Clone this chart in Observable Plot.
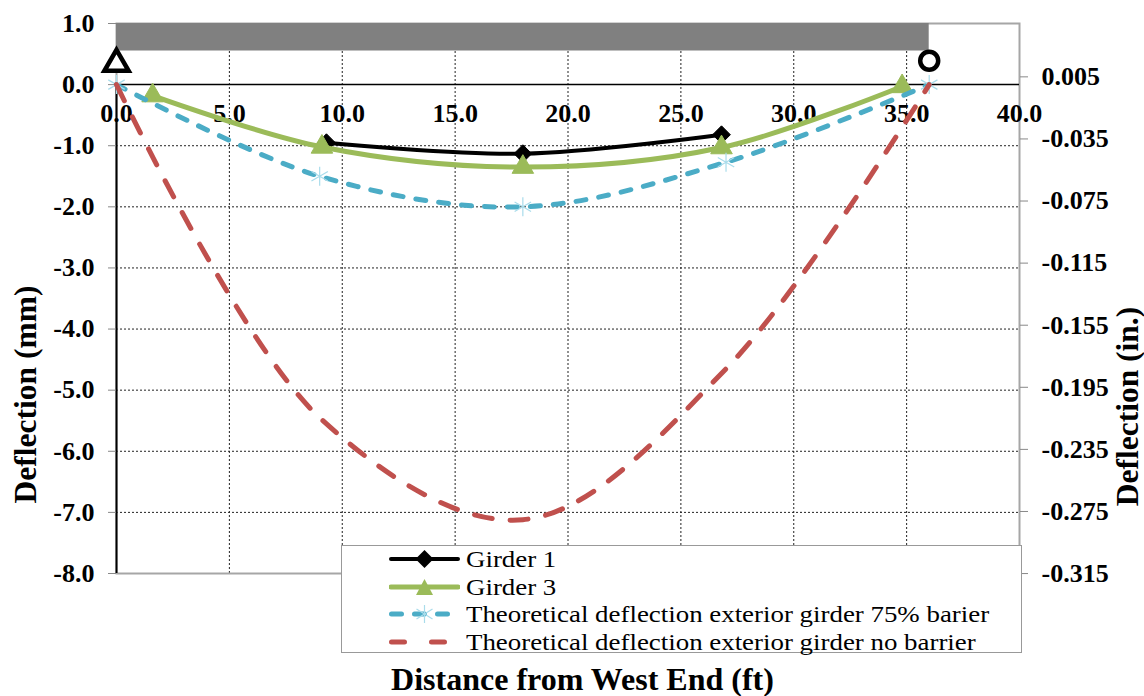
<!DOCTYPE html>
<html><head><meta charset="utf-8">
<script src="https://cdn.jsdelivr.net/npm/d3@7"></script>
<script src="https://cdn.jsdelivr.net/npm/@observablehq/plot@0.6"></script>
<style>
body{margin:0;background:#fff;}
#wrap{position:relative;width:1144px;height:696px;font-family:"Liberation Serif","Times New Roman",serif;}
#wrap svg text{font-family:"Liberation Serif","Times New Roman",serif;font-weight:bold;}
#legend{position:absolute;left:341px;top:545px;width:681px;height:108px;border:1px solid #999;background:#fff;box-sizing:border-box;}
.item{position:absolute;left:47px;height:26px;display:flex;align-items:center;font-size:24px;line-height:26px;color:#000;white-space:nowrap;font-family:"Liberation Serif","Times New Roman",serif;font-weight:normal;}
.item span{display:inline-block;transform:scaleX(1.12);transform-origin:0 50%;}
.item svg{margin-right:6px;flex:none;}
</style></head><body><div id="wrap"></div>
<script>
// ---- data ----
const xTicks = [0, 5, 10, 15, 20, 25, 30, 35, 40];
const yTicks = [1, 0, -1, -2, -3, -4, -5, -6, -7, -8];
const rightTicksIn = [0.005, -0.035, -0.075, -0.115, -0.155, -0.195, -0.235, -0.275, -0.315];
const gridX = [5, 10, 15, 20, 25, 30, 35];
const gridY = [-1, -2, -3, -4, -5, -6, -7];

const girder1X = [9.3, 18.0, 26.8];
const girder1Y = [-0.95, -1.13, -0.82];
const girder3X = [1.6, 9.1, 18.0, 26.8, 34.8];
const girder3Y = [-0.18, -1.02, -1.35, -1.03, -0.03];
const barrier75X = [0, 9, 18, 27, 36];
const barrier75Y = [0, -1.5, -2.0, -1.27, 0];
const noBarrierX = [0, 9, 18, 27, 36];
const noBarrierY = [0, -5.45, -7.12, -4.65, 0];

const deckStart = [0];
const deckEnd = [36];
const supportX = [0, 36];
const supportY = [0.34, 0.39];
const supportSymbol = ["triangle", "circle"];

const seriesNames = ["Girder 1", "Girder 3", "Theoretical deflection exterior girder 75% barier", "Theoretical deflection exterior girder no barrier"];

// ---- build tables ----
const rows = (xs, ys) => xs.map((x, i) => ({x, y: ys[i]}));
const g1 = rows(girder1X, girder1Y);
const g3 = rows(girder3X, girder3Y);
const b75 = rows(barrier75X, barrier75Y);
const nb = rows(noBarrierX, noBarrierY);
const deck = deckStart.map((s, i) => ({start: s, end: deckEnd[i]}));
const supports = supportX.map((x, i) => ({x, y: supportY[i], symbol: supportSymbol[i]}));

const C = {black: "#000000", green: "#9BBB59", blue: "#4BACC6", red: "#C0504D", star: "#A9DCEB"};
const font = "Liberation Serif, Times New Roman, serif";

const plot = Plot.plot({
  width: 1144, height: 696,
  marginLeft: 116, marginRight: 125, marginTop: 23, marginBottom: 123,
  x: {domain: [0, 40], axis: null},
  y: {domain: [-8, 1]},
  style: {fontFamily: font, fontSize: "26px", fontWeight: "bold", color: "black", background: "white", overflow: "visible"},
  marks: [
    Plot.ruleX(gridX, {x: d => d, y1: -8, y2: 1, stroke: "#222", strokeWidth: 1, strokeDasharray: "2,2"}),
    Plot.ruleY(gridY, {y: d => d, stroke: "#222", strokeWidth: 1, strokeDasharray: "2,2"}),
    Plot.frame({stroke: "#a6a6a6", strokeWidth: 2}),
    Plot.rect(deck, {x1: "start", x2: "end", y1: () => 0.55, y2: () => 1, fill: "#808080"}),
    Plot.ruleY([0], {stroke: "black", strokeWidth: 1.5}),
    Plot.ruleX([0], {y1: -8, y2: 0, stroke: "black", strokeWidth: 2}),
    Plot.axisY(yTicks, {anchor: "left", label: null, tickSize: 8, tickPadding: 14, tickFormat: d => d.toFixed(1), stroke: "#888", fill: "black", fontSize: 26, fontWeight: "bold", fontFamily: font}),
    Plot.axisY(rightTicksIn.map(v => v * 25.4), {anchor: "right", label: null, tickSize: 8, tickPadding: 14, tickFormat: d => (d / 25.4).toFixed(3), stroke: "#888", fill: "black", fontSize: 26, fontWeight: "bold", fontFamily: font}),
    Plot.text(xTicks, {x: d => d, y: () => 0, dy: 29, text: d => d.toFixed(1), fontSize: 26, fontWeight: "bold", fontFamily: font, fill: "black"}),
    // series
    Plot.line(g1, {x: "x", y: "y", stroke: C.black, strokeWidth: 4, curve: "catmull-rom"}),
    Plot.dot(g1, {x: "x", y: "y", symbol: "diamond2", r: 8, fill: C.black, stroke: C.black, strokeWidth: 1}),
    Plot.line(g3, {x: "x", y: "y", stroke: C.green, strokeWidth: 5, curve: "catmull-rom"}),
    Plot.dot(g3, {x: "x", y: "y", symbol: "triangle", r: 8, fill: C.green, stroke: C.green, strokeWidth: 1}),
    Plot.line(b75, {x: "x", y: "y", stroke: C.blue, strokeWidth: 5, strokeDasharray: "10,13", strokeLinecap: "round", curve: "catmull-rom"}),
    Plot.dot(b75, {x: "x", y: "y", symbol: "asterisk", r: 9, stroke: C.star, strokeWidth: 1.2}),
    Plot.line(nb, {x: "x", y: "y", stroke: C.red, strokeWidth: 5, strokeDasharray: "18,18", strokeLinecap: "round", curve: "catmull-rom"}),
    // supports
    Plot.dot(supports, {x: "x", y: "y", symbol: "symbol", r: 9, fill: "white", stroke: "black", strokeWidth: 4.5}),
    // axis titles
    Plot.text(["Deflection (mm)"], {frameAnchor: "top-left", dx: -91, dy: 371, rotate: -90, text: d => d, fontSize: 31.5, fontWeight: "bold", fontFamily: font, textAnchor: "middle", lineAnchor: "middle", fill: "black"}),
    Plot.text(["Deflection (in.)"], {frameAnchor: "top-right", dx: 108, dy: 383, rotate: -90, text: d => d, fontSize: 31.5, fontWeight: "bold", fontFamily: font, textAnchor: "middle", lineAnchor: "middle", fill: "black"}),
    Plot.text(["Distance from West End (ft)"], {frameAnchor: "top-left", dx: 466, dy: 656, text: d => d, fontSize: 32, fontWeight: "bold", fontFamily: font, textAnchor: "middle", lineAnchor: "middle", fill: "black"})
  ]
});
const wrap = document.getElementById("wrap");
wrap.appendChild(plot);

// ---- legend ----
const legend = document.createElement("div");
legend.id = "legend";
wrap.appendChild(legend);
const sw = [
  `<line x1="2" y1="10" x2="69" y2="10" stroke="${C.black}" stroke-width="4" stroke-linecap="round"/><path d="M35.5 1 L44.5 10 L35.5 19 L26.5 10Z" fill="${C.black}"/>`,
  `<line x1="2" y1="10" x2="69" y2="10" stroke="${C.green}" stroke-width="5" stroke-linecap="round"/><path d="M35.5 2 L44 18 L27 18Z" fill="${C.green}"/>`,
  `<line x1="2.5" y1="10" x2="69" y2="10" stroke="${C.blue}" stroke-width="5" stroke-dasharray="10,13" stroke-linecap="round"/><g stroke="${C.star}" stroke-width="1.2"><line x1="35.5" y1="1" x2="35.5" y2="19"/><line x1="27.5" y1="5" x2="43.5" y2="15"/><line x1="27.5" y1="15" x2="43.5" y2="5"/></g>`,
  `<line x1="2.5" y1="10" x2="69" y2="10" stroke="${C.red}" stroke-width="5" stroke-dasharray="13,27" stroke-linecap="round"/>`
];
const tops = [0, 27.7, 55.4, 83.1];
seriesNames.forEach((name, i) => {
  const it = document.createElement("div");
  it.className = "item";
  it.style.top = tops[i] + "px";
  it.innerHTML = `<svg width="71" height="20" viewBox="0 0 71 20">${sw[i]}</svg><span>${name}</span>`;
  legend.appendChild(it);
});
</script>
</body></html>
